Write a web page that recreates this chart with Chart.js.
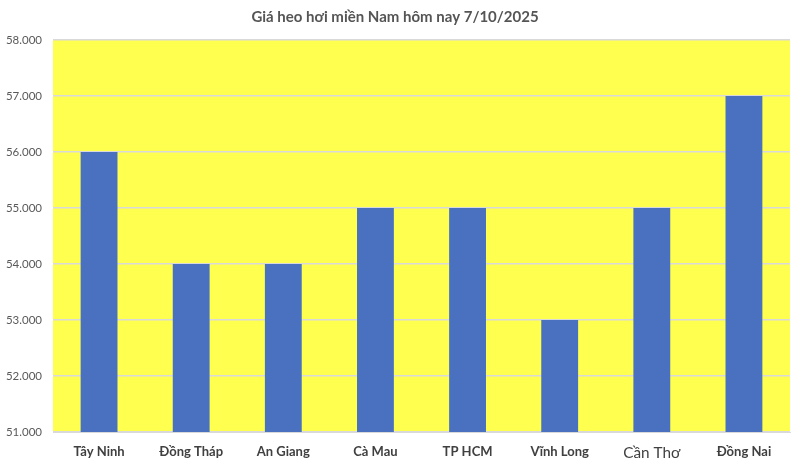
<!DOCTYPE html>
<html>
<head>
<meta charset="utf-8">
<script src="https://cdn.jsdelivr.net/npm/chart.js@4/dist/chart.umd.min.js"></script>
<style>
  html, body { margin: 0; padding: 0; background: #fff; }
  #wrap { width: 800px; height: 466px; }
</style>
</head>
<body>
<div id="wrap"><canvas id="price_chart"></canvas></div>
<script>
const labels = ["Tây Ninh", "Đồng Tháp", "An Giang", "Cà Mau", "TP HCM", "Vĩnh Long", "Cần Thơ", "Đồng Nai"];
const prices = [56000, 54000, 54000, 55000, 55000, 53000, 55000, 57000];
const y_ticks = [51000, 52000, 53000, 54000, 55000, 56000, 57000, 58000];

const fmtTick = (v) => {
    const s = String(v);
    return s.slice(0, s.length - 3) + "." + s.slice(-3);
};

const plot_bg = {
    id: "plot_bg",
    beforeDraw(chart) {
        const { ctx, chartArea } = chart;
        ctx.save();
        ctx.fillStyle = "#ffff4f";
        ctx.fillRect(chartArea.left, chartArea.top, chartArea.right - chartArea.left, chartArea.bottom - chartArea.top);
        ctx.restore();
    },
};

const price_config = {
    type: "bar",
    data: {
        labels,
        datasets: [
            {
                backgroundColor: "#4a70c0",
                data: prices,
                barPercentage: 0.8,
                categoryPercentage: 0.5,
            },
        ],
    },
    options: {
        responsive: true,
        maintainAspectRatio: false,
        animation: false,
        layout: { padding: { left: 0, right: 10, top: 0, bottom: 0 } },
        plugins: {
            legend: { display: false },
            tooltip: { enabled: false },
            title: {
                display: true,
                text: "Giá heo hơi miền Nam hôm nay 7/10/2025",
                color: "#555555",
                font: { family: "Lato, 'Open Sans', sans-serif", size: 15, weight: "bold" },
                padding: { top: 8, bottom: 14 },
            },
        },
        scales: {
            x: {
                afterFit(scale) { scale.height = 34; },
                grid: { display: false },
                border: { color: "#d9d9d9" },
                ticks: {
                    color: "#404040",
                    padding: 4,
                    font: (c) => c.index === 6
                        ? { family: "Lato, 'Open Sans', sans-serif", size: 15.3, weight: "normal" }
                        : { family: "Lato, 'Open Sans', sans-serif", size: 13, weight: "bold" },
                },
            },
            y: {
                min: 51000,
                max: 58000,
                afterFit(scale) { scale.width = 53; },
                afterBuildTicks(scale) { scale.ticks = y_ticks.map((v) => ({ value: v })); },
                grid: { color: "#d9d9d9", lineWidth: 1.5, drawTicks: false },
                border: { display: false },
                ticks: {
                    color: "#595959",
                    padding: 11,
                    font: { family: "Lato, 'Open Sans', sans-serif", size: 11.5 },
                    callback: (v) => fmtTick(v),
                },
            },
        },
    },
    plugins: [plot_bg],
};

const price_chart = new Chart(document.getElementById("price_chart"), price_config);
</script>
</body>
</html>
